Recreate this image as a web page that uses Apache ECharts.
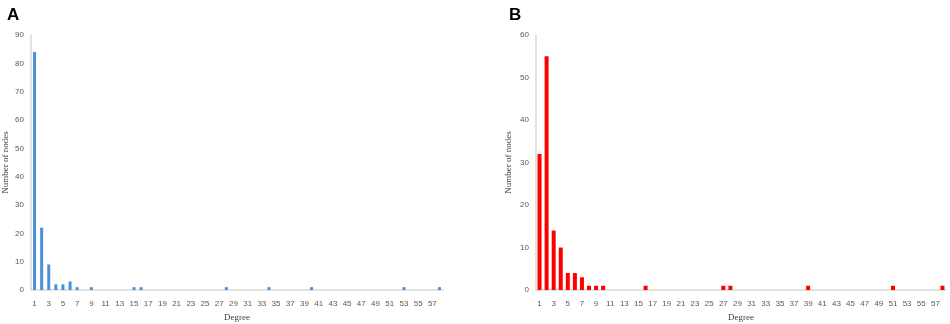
<!DOCTYPE html>
<html>
<head>
<meta charset="utf-8">
<script src="https://cdn.jsdelivr.net/npm/echarts@6/dist/echarts.min.js"></script>
<style>
  html, body { margin: 0; padding: 0; background: #fff; }
  #chartDiv { width: 950px; height: 324px; }
</style>
</head>
<body>
<div id="chartDiv"></div>
<script>
// degree categories 1..58
var degrees = [];
for (var d = 1; d <= 58; d++) degrees.push(String(d));

// panel A - number of nodes per degree
var nodesA = [
  84, 22, 9, 2, 2, 3, 1, 0, 1, 0,   // 1-10
  0, 0, 0, 0, 1, 1, 0, 0, 0, 0,     // 11-20
  0, 0, 0, 0, 0, 0, 0, 1, 0, 0,     // 21-30
  0, 0, 0, 1, 0, 0, 0, 0, 0, 1,     // 31-40
  0, 0, 0, 0, 0, 0, 0, 0, 0, 0,     // 41-50
  0, 0, 1, 0, 0, 0, 0, 1            // 51-58
];
// panel B
var nodesB = [
  32, 55, 14, 10, 4, 4, 3, 1, 1, 1, // 1-10
  0, 0, 0, 0, 0, 1, 0, 0, 0, 0,     // 11-20
  0, 0, 0, 0, 0, 0, 1, 1, 0, 0,     // 21-30
  0, 0, 0, 0, 0, 0, 0, 0, 1, 0,     // 31-40
  0, 0, 0, 0, 0, 0, 0, 0, 0, 0,     // 41-50
  1, 0, 0, 0, 0, 0, 0, 1            // 51-58
];

function xAxisOf(idx){
  return {
    type: 'category', gridIndex: idx, data: degrees,
    name: 'Degree', nameLocation: 'middle', nameGap: 23,
    nameTextStyle: { fontFamily: 'Liberation Serif', fontSize: 9, color: '#404040' },
    axisLine: { lineStyle: { color: '#d9d9d9', width: 1.5 } },
    axisTick: { show: false },
    axisLabel: { interval: 1, margin: 10, fontFamily: 'Liberation Sans', fontSize: 8, color: '#595959' }
  };
}
function yAxisOf(idx, max, gap){
  return {
    type: 'value', gridIndex: idx, min: 0, max: max, interval: 10,
    name: 'Number of nodes', nameLocation: 'middle', nameGap: gap,
    nameTextStyle: { fontFamily: 'Liberation Serif', fontSize: 9, color: '#404040' },
    axisLine: { show: true, lineStyle: { color: '#d9d9d9', width: 1.5 } },
    axisTick: { show: false },
    splitLine: { show: false },
    axisLabel: { margin: 7, fontFamily: 'Liberation Sans', fontSize: 8, color: '#595959' }
  };
}

var option = {
  animation: false,
  title: [
    { text: 'A', left: 2, top: 2, textStyle: { fontFamily: 'Liberation Sans', fontSize: 17, fontWeight: 'bold', color: '#000' } },
    { text: 'B', left: 504, top: 2, textStyle: { fontFamily: 'Liberation Sans', fontSize: 17, fontWeight: 'bold', color: '#000' } }
  ],
  grid: [
    { left: 31, right: 507, top: 35, bottom: 34, outerBoundsMode: 'none' },
    { left: 536, right: 4, top: 35, bottom: 34, outerBoundsMode: 'none' }
  ],
  xAxis: [xAxisOf(0), xAxisOf(1)],
  yAxis: [yAxisOf(0, 90, 21), yAxisOf(1, 60, 23)],
  series: [
    { type: 'bar', xAxisIndex: 0, yAxisIndex: 0, data: nodesA, barWidth: 3, itemStyle: { color: '#4a90d9' } },
    { type: 'bar', xAxisIndex: 1, yAxisIndex: 1, data: nodesB, barWidth: 4, itemStyle: { color: '#ff0000' } }
  ]
};
var myCharts1 = echarts.init(document.getElementById('chartDiv'));
myCharts1.setOption(option, true);
</script>
</body>
</html>
